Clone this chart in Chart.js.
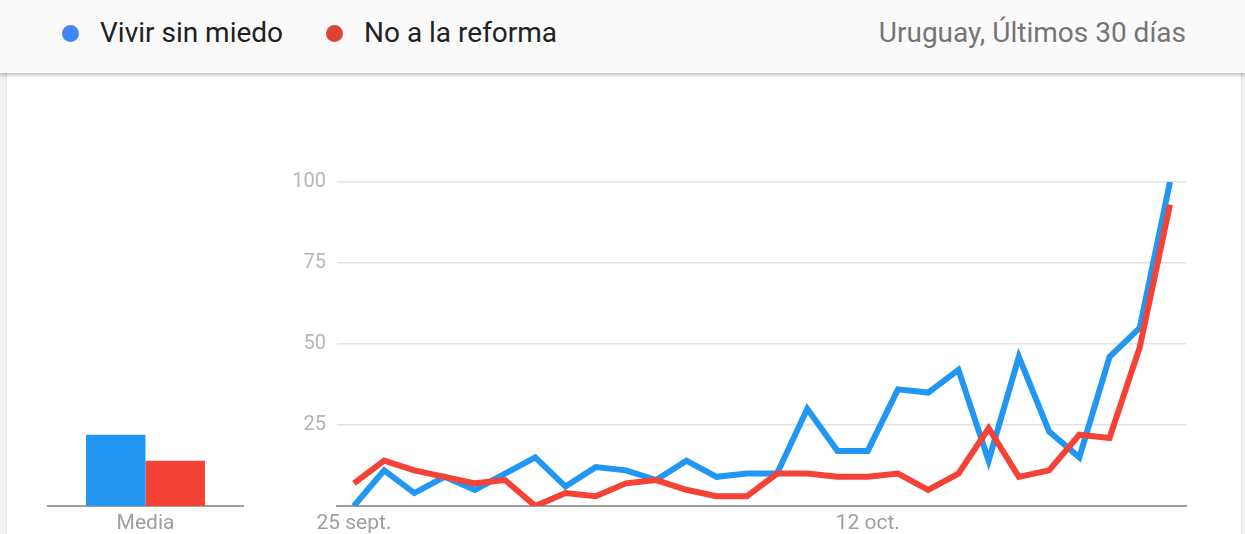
<!DOCTYPE html>
<html>
<head>
<meta charset="utf-8">
<script src="https://cdn.jsdelivr.net/npm/chart.js@4/dist/chart.umd.min.js"></script>
<style>
  html, body { margin: 0; padding: 0; }
  body { width: 1245px; height: 534px; background: #f1f1f1; position: relative; overflow: hidden; font-family: Roboto, "Noto Sans", sans-serif; }
  .header { position: absolute; left: 0; top: 0; width: 1245px; height: 73px; background: #fafafa; box-shadow: 0 2px 4px rgba(0,0,0,0.28); z-index: 2; }
  .dot { position: absolute; top: 25px; width: 17px; height: 17px; border-radius: 50%; }
  .lbl { position: absolute; top: 15px; font-size: 28px; color: #212121; line-height: 36px; white-space: nowrap; }
  .meta { position: absolute; top: 15px; right: 59px; font-size: 28px; color: #757575; line-height: 36px; white-space: nowrap; }
  .card { position: absolute; left: 6px; right: 3px; top: 73px; bottom: 0; background: #fff; border-left: 1px solid #e4e4e4; border-right: 1px solid #e4e4e4; }
  canvas { position: absolute; }
  #avgChart { left: 0; top: 150px; }
  #trendChart { left: 270px; top: 150px; }
</style>
</head>
<body>
<div class="header">
  <div class="dot" style="left:62px;background:#4285f4"></div>
  <div class="lbl" style="left:100px">Vivir sin miedo</div>
  <div class="dot" style="left:326px;background:#db4437"></div>
  <div class="lbl" style="left:364px">No a la reforma</div>
  <div class="meta">Uruguay, Últimos 30 días</div>
</div>
<div class="card"></div>
<canvas id="avgChart" width="270" height="384"></canvas>
<canvas id="trendChart" width="940" height="384"></canvas>
<script>
// --- data ---
const days = ['25 sept.', '26 sept.', '27 sept.', '28 sept.', '29 sept.', '30 sept.', '1 oct.',
  '2 oct.', '3 oct.', '4 oct.', '5 oct.', '6 oct.', '7 oct.', '8 oct.', '9 oct.', '10 oct.',
  '11 oct.', '12 oct.', '13 oct.', '14 oct.', '15 oct.', '16 oct.', '17 oct.', '18 oct.',
  '19 oct.', '20 oct.', '21 oct.', '22 oct.'];
const shownDays = [0, 17];
const vivirSinMiedo = [0, 11, 4, 9, 5, 10, 15, 6, 12, 11, 8, 14, 9, 10, 10, 30, 17, 17, 36, 35, 42, 14, 46, 23, 15, 46, 55, 100];
const noALaReforma = [7, 14, 11, 9, 7, 8, 0, 4, 3, 7, 8, 5, 3, 3, 10, 10, 9, 9, 10, 5, 10, 24, 9, 11, 22, 21, 49, 93];
const avgLabels = ['Media'];
const avgVivir = [22];
const avgReforma = [14];
const yTicks = [0, 25, 50, 75, 100];

const BLUE = '#2196f3';
const RED = '#f44336';
const AXIS = '#9e9e9e';

// Average bars on the left
new Chart(document.getElementById('avgChart'), {
    type: 'bar',
    data: {
        labels: avgLabels,
        datasets: [
            { data: avgVivir, backgroundColor: BLUE, barPercentage: 1, categoryPercentage: 0.61 },
            { data: avgReforma, backgroundColor: RED, barPercentage: 1, categoryPercentage: 0.61 }
        ]
    },
    options: {
        responsive: false,
        animation: false,
        layout: { padding: { left: 48, right: 27, top: 32, bottom: 0 } },
        plugins: { legend: { display: false }, tooltip: { enabled: false } },
        scales: {
            x: {
                grid: { display: false, drawTicks: false },
                border: { color: AXIS, width: 2 },
                ticks: { color: AXIS, padding: 5, font: { family: 'Roboto', size: 21 } },
                afterFit: s => { s.height = 28; }
            },
            y: { display: false, min: 0, max: 100 }
        }
    }
});

// Interest over time
const toPoints = arr => arr.map((v, i) => ({ x: i, y: v }));

new Chart(document.getElementById('trendChart'), {
    type: 'line',
    data: {
        datasets: [
            { data: toPoints(vivirSinMiedo), borderColor: BLUE, borderWidth: 6, pointRadius: 0, tension: 0, borderJoinStyle: 'miter', order: 1 },
            { data: toPoints(noALaReforma), borderColor: RED, borderWidth: 6, pointRadius: 0, tension: 0, borderJoinStyle: 'miter', order: 0 }
        ]
    },
    options: {
        responsive: false,
        animation: false,
        layout: { padding: { left: 0, right: 24, top: 32, bottom: 0 } },
        plugins: { legend: { display: false }, tooltip: { enabled: false } },
        scales: {
            x: {
                type: 'linear',
                min: -0.56,
                max: days.length - 1 + 0.53,
                grid: { display: false, drawTicks: false },
                border: { color: AXIS, width: 2 },
                afterBuildTicks: s => { s.ticks = shownDays.map(v => ({ value: v })); },
                ticks: {
                    color: AXIS, padding: 5, maxRotation: 0, autoSkip: false,
                    font: { family: 'Roboto', size: 21 },
                    callback: v => days[v]
                },
                afterFit: s => { s.height = 28; }
            },
            y: {
                min: 0,
                max: 100,
                afterBuildTicks: s => { s.ticks = yTicks.map(v => ({ value: v })); },
                grid: {
                    drawTicks: false,
                    lineWidth: 1.5,
                    color: c => c.tick && c.tick.value === 0 ? 'rgba(0,0,0,0)' : '#e2e2e2'
                },
                border: { display: false },
                ticks: {
                    color: '#b5b5b5', padding: 11,
                    font: { family: 'Roboto', size: 20 },
                    callback: v => v === 0 ? '' : v
                },
                afterFit: s => { s.width = 67; }
            }
        }
    }
});
</script>
</body>
</html>
